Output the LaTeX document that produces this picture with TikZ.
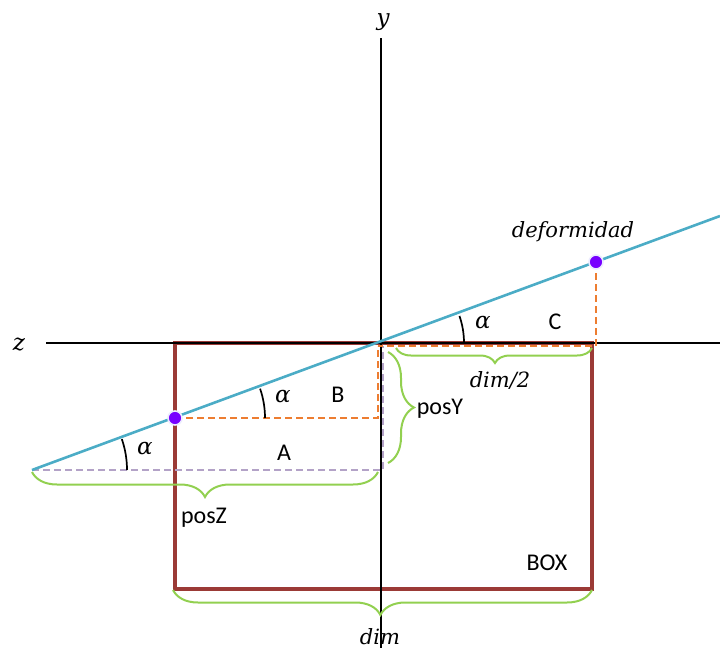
\documentclass[tikz,border=0pt]{standalone}
\usepackage{fontspec}
\setmainfont{Carlito}
\newfontfamily\mathlike{DejaVu Serif}
\usetikzlibrary{decorations.pathreplacing,calc}
\definecolor{lineblue}{HTML}{4BACC6}
\definecolor{bracegreen}{HTML}{92D050}
\definecolor{dashorange}{HTML}{ED7D31}
\definecolor{dashlav}{HTML}{B3A2C7}
\definecolor{boxbrown}{HTML}{9B3A36}
\definecolor{dotpurple}{HTML}{7700FF}
\tikzset{
  axis/.style={black, line width=1.4pt},
  boxline/.style={boxbrown, line width=3.8pt},
  slope/.style={lineblue, line width=2.6pt},
  odash/.style={dashorange, line width=2.2pt, dash pattern=on 7pt off 4pt},
  ldash/.style={dashlav, line width=2.2pt, dash pattern=on 7pt off 4pt},
  gbrace/.style={bracegreen, line width=2pt, decorate},
  anglearc/.style={black, line width=1.7pt},
  dotpt/.style={circle, fill=dotpurple, draw=white!92!blue, line width=1.6pt, minimum size=14pt, inner sep=0pt},
  mlab/.style={font=\mathlike\itshape\fontsize{23}{27}\selectfont, inner sep=0pt},
  slab/.style={font=\mathlike\itshape\fontsize{21}{25}\selectfont, inner sep=0pt},
  tlab/.style={font=\fontsize{24}{28}\selectfont, inner sep=0pt},
}
\begin{document}
\begin{tikzpicture}[x=1pt,y=1pt]
\useasboundingbox (0,0) rectangle (720,-648);
% coordinates
\coordinate (O) at (381,-343);
\coordinate (L) at (32,-470);
\coordinate (R) at (720,-216);
\coordinate (zl) at (46,-343);
\coordinate (zr) at (720,-343);
\coordinate (yt) at (381,-38);
\coordinate (yb) at (381,-648);
% box
\draw[boxline] (175,-343) rectangle (592,-589);
% axes
\draw[axis] (zl) -- (zr);
\draw[axis] (yt) -- (yb);
\node[mlab] (ylab) at (383,-22) {y};
\node[mlab] (zlab) at (19,-345) {z};
% dashed helpers
\coordinate (P1) at (175,-418);
\coordinate (P2) at (596,-262);
\coordinate (o1) at (378,-418);
\coordinate (o2) at (378,-346);
\coordinate (o3) at (596,-346);
\coordinate (o4) at (378,-346);
\coordinate (l1) at (383,-470);
\coordinate (l2) at (383,-346);
\draw[ldash] (L) -- (l1) -- (l2);
\draw[odash] (P1) -- (o1) -- (o2);
\draw[odash] (P2) -- (o3) -- (o4);
% slope line
\draw[slope] (L) -- (R);
% angle arcs
\draw[anglearc] ($(L)+(95,0)$) arc[start angle=0, end angle=19, radius=95];
\draw[anglearc] ($(P1)+(90,0)$) arc[start angle=0, end angle=19, radius=90];
\draw[anglearc] ($(O)+(83,0)$) arc[start angle=0, end angle=19, radius=83];
% dots
\node[dotpt] (d1) at (P1) {};
\node[dotpt] (d2) at (P2) {};
% braces
\draw[gbrace, decoration={brace, mirror, amplitude=25pt, aspect=0.5}] (32,-472) -- (378,-472);
\draw[gbrace, decoration={brace, amplitude=26pt, aspect=0.5}] (388,-352) -- (388,-463);
\draw[gbrace, decoration={brace, mirror, amplitude=15pt, aspect=0.505}] (396,-348) -- (592,-348);
\draw[gbrace, decoration={brace, mirror, amplitude=25pt, aspect=0.495}] (173,-590) -- (592,-590);
% labels
\node[mlab] (a1) at (145,-449) {α};
\node[mlab] (a2) at (283,-397) {α};
\node[mlab] (a3) at (483,-323) {α};
\node[tlab] (A) at (284,-453) {A};
\node[tlab] (B) at (338,-395) {B};
\node[tlab] (C) at (555,-322) {C};
\node[tlab] (BOX) at (547,-563) {BOX};
\node[tlab] (posY) at (440,-409) {posY};
\node[tlab] (posZ) at (204,-518) {posZ};
\node[slab] (def) at (573,-232) {deformidad};
\node[slab] (dim2) at (500,-380) {dim/2};
\node[slab, anchor=base] (dim) at (380,-644) {dim};
\end{tikzpicture}
\end{document}
